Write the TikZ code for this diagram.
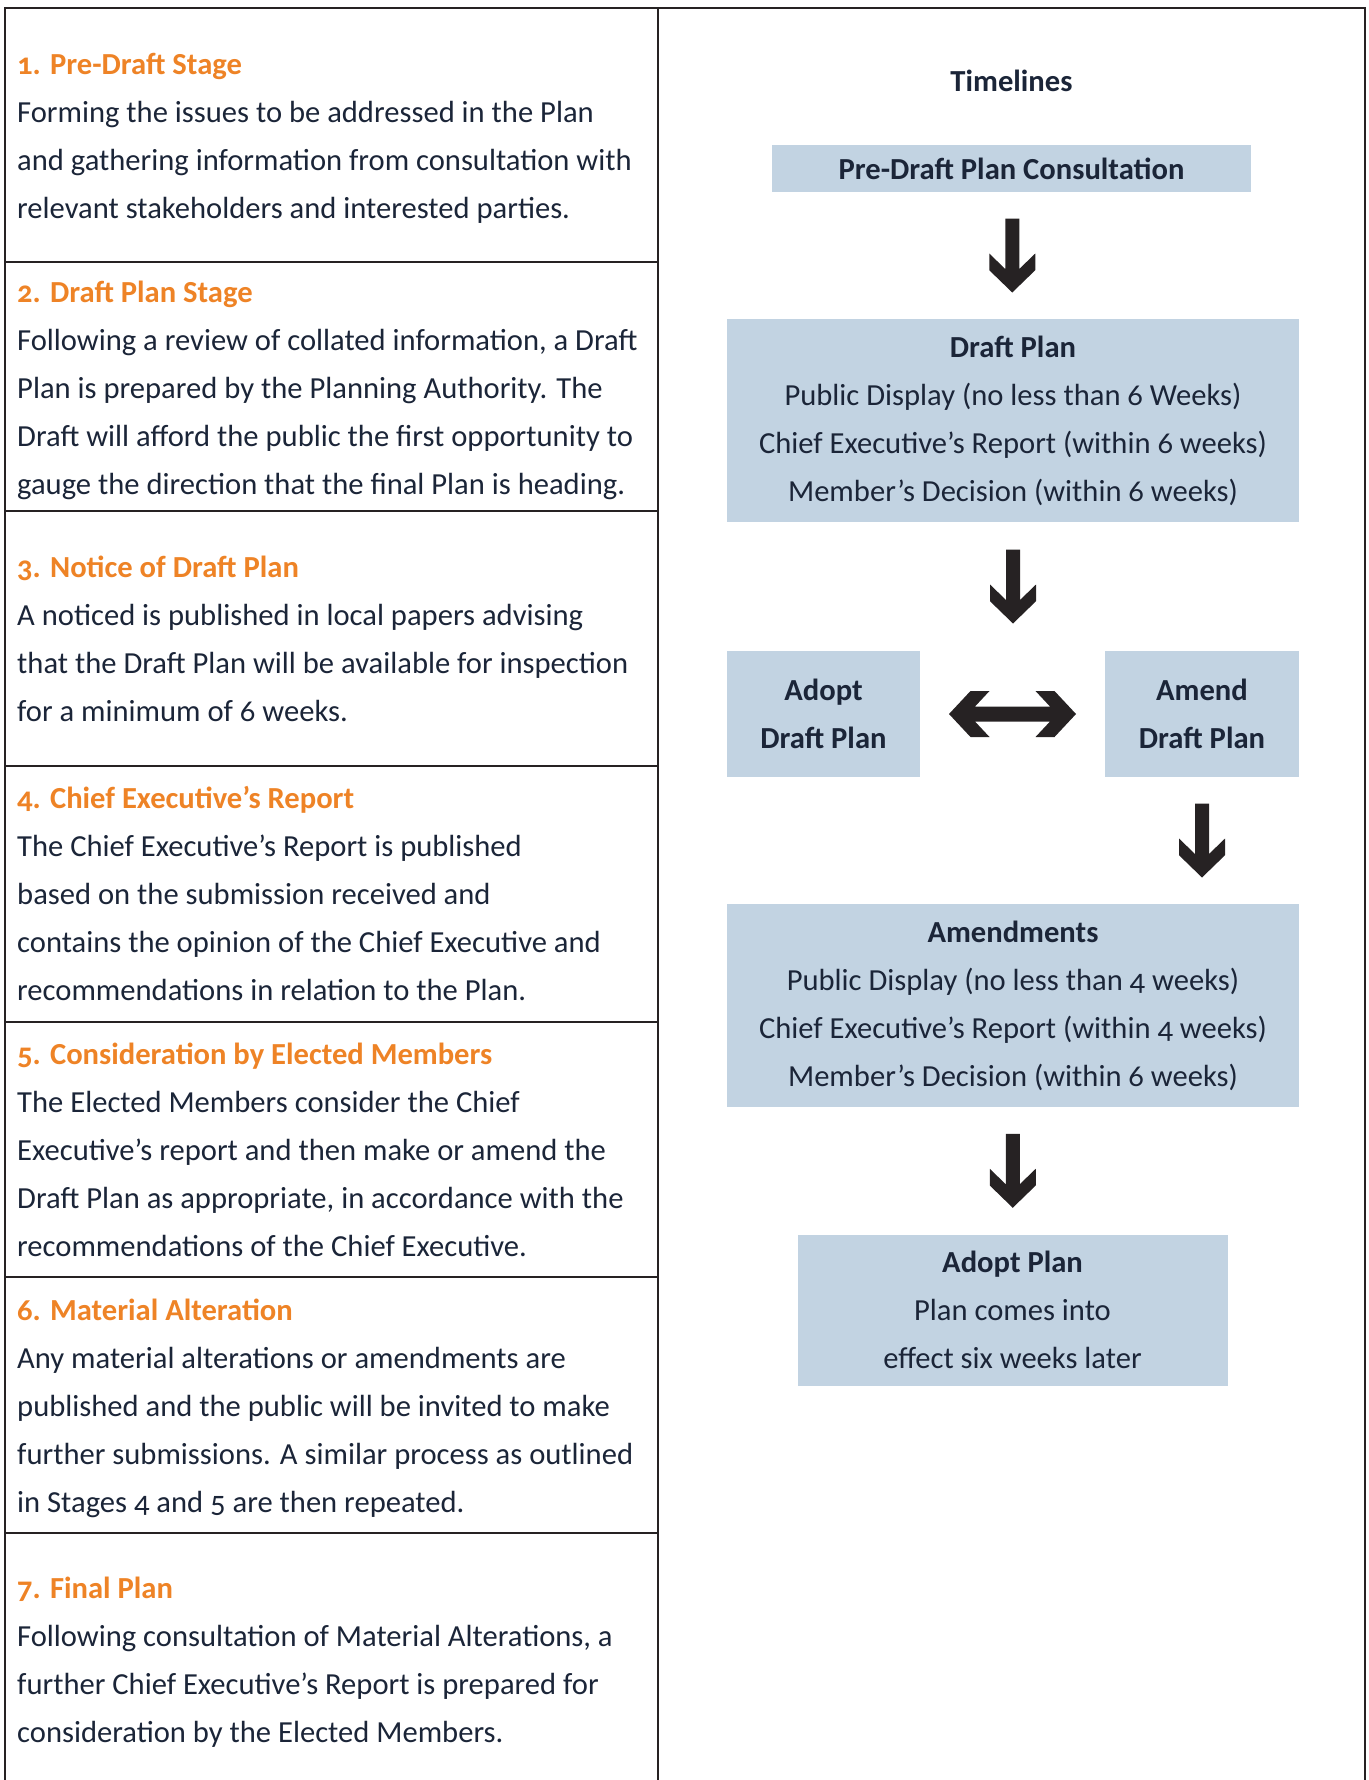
\documentclass[tikz,border=0pt]{standalone}
\usepackage{fontspec}
\setmainfont{Carlito}[Numbers=OldStyle]
\usepackage{tikz}
\usetikzlibrary{calc}

\definecolor{stageorange}{RGB}{238,131,38}
\definecolor{textnavy}{RGB}{27,37,56}
\definecolor{boxblue}{RGB}{194,211,226}
\definecolor{rulegray}{RGB}{38,34,35}

\tikzset{
  downarrow/.pic={
    \fill[rulegray] (-7,-37) -- (7,-37) -- (7,13.5) -- (23,-2) -- (23,14.7) -- (0,37)
      -- (-23,14.7) -- (-23,-2) -- (-7,13.5) -- cycle;
  },
  bothwayarrow/.pic={
    \fill[rulegray] (-63.5,0) -- (-42,-23) -- (-23,-23) -- (-37.5,-7.5) -- (37.5,-7.5)
      -- (23,-23) -- (42,-23) -- (63.5,0) -- (42,23) -- (23,23) -- (37.5,7.5)
      -- (-37.5,7.5) -- (-23,23) -- (-42,23) -- cycle;
  }
}

\begin{document}
\begin{tikzpicture}[x=1pt, y=-1pt,
    tablerule/.style={rulegray, line width=2.4pt},
    stage/.style={anchor=base west, align=left, inner sep=0pt, text=textnavy,
      font=\fontsize{30.6}{48.2}\selectfont},
    tlbox/.style={fill=boxblue, align=center, inner sep=0pt, text=textnavy,
      font=\fontsize{30.6}{48}\selectfont}]

  \useasboundingbox (0,0) rectangle (1368,1780);

  % Rahmen der Tabelle
  \draw[tablerule] (5,1780) -- (5,8) -- (1365,8) -- (1365,1780);
  \draw[tablerule] (658,8) -- (658,1780);
  \foreach \y in {262,511,766,1022,1277,1533}
    \draw[tablerule] (5,\y) -- (658,\y);

  % Linke Spalte: Stufen (Basis = letzte Zeile)
  \node[stage] (s1) at (17,218.6) {\textcolor{stageorange}{\bfseries 1. Pre-Draft Stage}\\
    Forming the issues to be addressed in the Plan\\
    and gathering information from consultation with\\
    relevant stakeholders and interested parties.};
  \node[stage] (s2) at (17,494.8) {\textcolor{stageorange}{\bfseries 2. Draft Plan Stage}\\
    Following a review of collated information, a Draft\\
    Plan is prepared by the Planning Authority. The\\
    Draft will afford the public the first opportunity to\\
    gauge the direction that the final Plan is heading.};
  \node[stage] (s3) at (17,721.6) {\textcolor{stageorange}{\bfseries 3. Notice of Draft Plan}\\
    A noticed is published in local papers advising\\
    that the Draft Plan will be available for inspection\\
    for a minimum of 6 weeks.};
  \node[stage] (s4) at (17,1000.8) {\textcolor{stageorange}{\bfseries 4. Chief Executive’s Report}\\
    The Chief Executive’s Report is published\\
    based on the submission received and\\
    contains the opinion of the Chief Executive and\\
    recommendations in relation to the Plan.};
  \node[stage] (s5) at (17,1256.8) {\textcolor{stageorange}{\bfseries 5. Consideration by Elected Members}\\
    The Elected Members consider the Chief\\
    Executive’s report and then make or amend the\\
    Draft Plan as appropriate, in accordance with the\\
    recommendations of the Chief Executive.};
  \node[stage] (s6) at (17,1512.8) {\textcolor{stageorange}{\bfseries 6. Material Alteration}\\
    Any material alterations or amendments are\\
    published and the public will be invited to make\\
    further submissions. A similar process as outlined\\
    in Stages 4 and 5 are then repeated.};
  \node[stage] (s7) at (17,1742.6) {\textcolor{stageorange}{\bfseries 7. Final Plan}\\
    Following consultation of Material Alterations, a\\
    further Chief Executive’s Report is prepared for\\
    consideration by the Elected Members.};

  % Rechte Spalte: Zeitplan
  \node[anchor=base, text=textnavy, font=\fontsize{30.6}{48}\selectfont\bfseries] (title)
    at (1011.5,91) {Timelines};

  \node[tlbox, minimum width=479pt, minimum height=47pt] (pre) at (1011.5,168.5)
    {\bfseries Pre-Draft Plan Consultation};
  \node[tlbox, minimum width=572pt, minimum height=203pt] (draft) at (1013,420.5)
    {\bfseries Draft Plan\\
     Public Display (no less than 6 Weeks)\\
     Chief Executive’s Report (within 6 weeks)\\
     Member’s Decision (within 6 weeks)};
  \node[tlbox, minimum width=193pt, minimum height=126pt] (adopt) at (823.5,714)
    {\bfseries Adopt\\ \bfseries Draft Plan};
  \node[tlbox, minimum width=194pt, minimum height=126pt] (amend) at (1202,714)
    {\bfseries Amend\\ \bfseries Draft Plan};
  \node[tlbox, minimum width=572pt, minimum height=203pt] (amendments) at (1013,1005.5)
    {\bfseries Amendments\\
     Public Display (no less than 4 weeks)\\
     Chief Executive’s Report (within 4 weeks)\\
     Member’s Decision (within 6 weeks)};
  \node[tlbox, minimum width=430pt, minimum height=151pt] (final) at (1012.5,1310)
    {\bfseries Adopt Plan\\
     Plan comes into\\
     effect six weeks later};

  % Pfeile
  \pic at ($(pre.south)!0.5!(draft.north)$) {downarrow};
  \pic at ($(draft.south)!0.5!(draft.south |- adopt.north)$) {downarrow};
  \pic at ($(adopt.east)!0.5!(amend.west)$) {bothwayarrow};
  \pic at ($(amend.south)!0.5!(amend.south |- amendments.north)$) {downarrow};
  \pic at ($(amendments.south)!0.5!(final.north)$) {downarrow};

\end{tikzpicture}
\end{document}
